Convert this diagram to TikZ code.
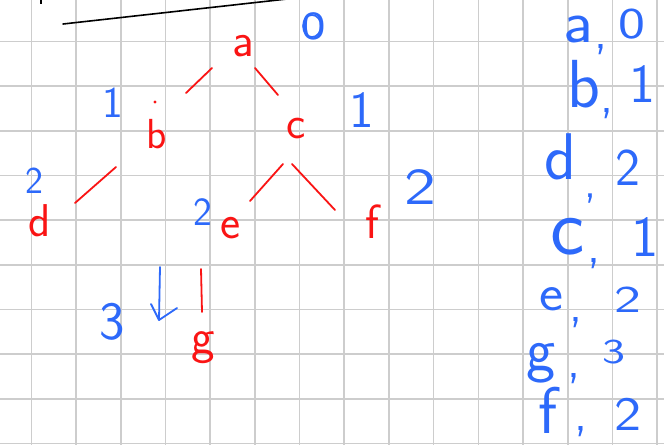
\documentclass[tikz,border=0pt]{standalone}
\usepackage{fontspec}
\definecolor{penred}{RGB}{250,20,20}
\definecolor{penblue}{RGB}{45,105,250}
\definecolor{gridgray}{RGB}{205,205,205}
\tikzset{
  redtxt/.style={text=penred, inner sep=0pt, font=\sffamily\fontsize{#1}{#1}\selectfont},
  bluetxt/.style={text=penblue, inner sep=0pt, font=\sffamily\fontsize{#1}{#1}\selectfont},
  edge/.style={draw=penred, line width=1.8pt, line cap=round},
  bluepen/.style={draw=penblue, line width=1.8pt, line cap=round, line join=round},
  gridline/.style={draw=gridgray, line width=1.6pt}
}
\begin{document}
\begin{tikzpicture}[x=1pt,y=-1pt]
\useasboundingbox (0,0) rectangle (664,445);
\fill[white] (0,0) rectangle (664,445);
% grid paper
\foreach \i in {0,...,14} {\draw[gridline] ({31.3+44.7*\i},0) -- ({31.3+44.7*\i},445);}
\foreach \j in {0,...,9} {\draw[gridline] (0,{41.3+44.7*\j}) -- (664,{41.3+44.7*\j});}
% black stroke at top
\coordinate (bl1) at (63,24);
\coordinate (bl2) at (287,-1);
\draw[line width=1.6pt, line cap=round] (bl1) -- (bl2);
\coordinate (tk1) at (41,-1);
\coordinate (tk2) at (41,4);
\draw[line width=1.6pt] (tk1) -- (tk2);
% circled zero
\node[bluetxt=40, xscale=1.3] (zero) at (314,26) {0};
\draw[bluepen, line width=1.6pt] ([xshift=-2pt]zero.center) ellipse [x radius=9, y radius=11];
% tree nodes
\node[redtxt=48] (a) at (243,46) {a};
\node[redtxt=42] (b) at (157,134) {b};
\node[redtxt=46] (c) at (296,129) {c};
\node[redtxt=46] (d) at (40,221) {d};
\node[redtxt=48] (e) at (231,228) {e};
\node[redtxt=48] (f) at (372,222) {f};
\node[redtxt=50] (g) at (203,348) {g};
\fill[penred] (155,102) circle (1.6);
% tree edges
\draw[edge] ([shift={(-31,22)}]a.center) -- ([shift={(29,-41)}]b.center);
\draw[edge] ([shift={(12,22)}]a.center) -- ([shift={(-18,-34)}]c.center);
\draw[edge] ([shift={(-41,33)}]b.center) -- ([shift={(35,-18)}]d.center);
\draw[edge] ([shift={(-13,35)}]c.center) -- ([shift={(19,-27)}]e.center);
\draw[edge] ([shift={(-4,35)}]c.center) -- ([shift={(-37,-12)}]f.center);
\draw[edge] ([shift={(-30,41)}]e.center) -- ([shift={(-1,-36)}]g.center);
% level labels in the tree
\node[bluetxt=44] (lb) at (113,103) {1};
\node[bluetxt=52] (lc) at (362,110) {1};
\node[bluetxt=38] (ld) at (34,181) {2};
\node[bluetxt=40] (le) at (203,212) {2};
\node[bluetxt=52, xscale=1.3] (lf) at (420,187) {2};
\node[bluetxt=54] (lg) at (112,322) {3};
% blue down arrow
\coordinate (arT) at (160,267);
\coordinate (arB) at (159,320);
\draw[bluepen] (arT) -- (arB) -- +(-8,-16);
\draw[bluepen] (arB) -- +(18,-12);
% list on the right
\node[bluetxt=60, xscale=1.1] (ra) at (578,29) {a};
\node[bluetxt=68] (rb) at (584,84) {b};
\node[bluetxt=66] (rd) at (560,157) {d};
\node[bluetxt=82] (rc) at (568,237) {c};
\node[bluetxt=52, xscale=1.1] (re) at (551,299) {e};
\node[bluetxt=62] (rg) at (541,363) {g};
\node[bluetxt=66] (rf) at (548,410) {f};
\node[bluetxt=50] (ca) at (601,50) {,};
\node[bluetxt=50] (cb) at (607,114) {,};
\node[bluetxt=46] (cd) at (590,199) {,};
\node[bluetxt=50] (cc) at (594,264) {,};
\node[bluetxt=50] (ce) at (576,323) {,};
\node[bluetxt=50] (cg) at (574,379) {,};
\node[bluetxt=50] (cf) at (581,432) {,};
\node[bluetxt=44, xscale=1.3] (na) at (632,24) {0};
\node[bluetxt=55] (nb) at (642,84) {1};
\node[bluetxt=53] (nd) at (628,168) {2};
\node[bluetxt=58] (nc) at (645,237) {1};
\node[bluetxt=38, xscale=1.5] (ne) at (628,300) {2};
\node[bluetxt=35, xscale=1.4] (ng) at (614,352) {3};
\node[bluetxt=48, xscale=1.2] (nf) at (628,414) {2};
\end{tikzpicture}
\end{document}
